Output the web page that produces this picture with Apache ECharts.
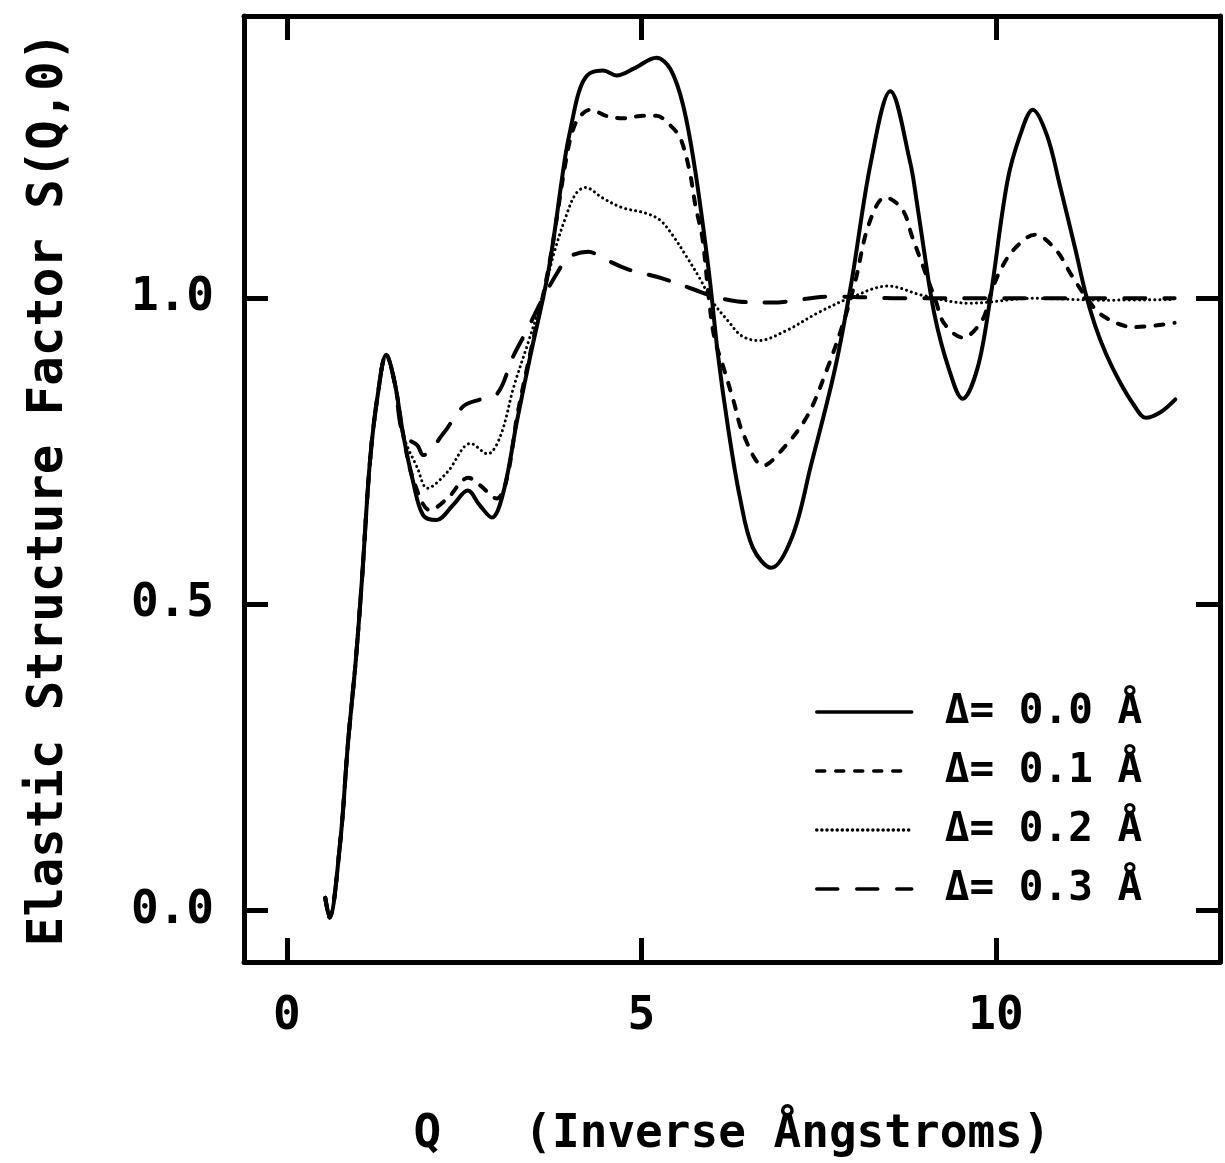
<!DOCTYPE html>
<html>
<head>
<meta charset="utf-8">
<script src="https://cdn.jsdelivr.net/npm/echarts@6/dist/echarts.min.js"></script>
<style>
html,body{margin:0;padding:0;background:#fff;}
#chart{width:1225px;height:1163px;}
</style>
</head>
<body>
<div id="chart"></div>
<script>
// ---- data (Q in inverse Angstroms, S = elastic structure factor) ----
var qRise = [0.54, 0.60, 0.75, 0.86, 0.97, 1.06, 1.17, 1.28, 1.40, 1.52, 1.64];
var sRise = [0.021, -0.011, 0.111, 0.273, 0.408, 0.545, 0.733, 0.842, 0.908, 0.862, 0.777];

var q00 = [1.78, 1.92, 2.11, 2.34, 2.55, 2.72, 2.89, 3.05, 3.25, 3.44, 3.69, 3.93, 4.02, 4.10, 4.18, 4.28, 4.46, 4.65, 4.89, 5.21, 5.41, 5.59, 5.76, 5.95, 6.08, 6.22, 6.39, 6.57, 6.83, 7.13, 7.39, 7.73, 7.96, 8.24, 8.51, 8.79, 8.88, 8.97, 9.13, 9.33, 9.53, 9.74, 9.92, 10.16, 10.34, 10.52, 10.72, 10.90, 11.12, 11.26, 11.40, 11.55, 11.74, 11.95, 12.11, 12.32, 12.53];
var s00 = [0.700, 0.646, 0.638, 0.662, 0.686, 0.662, 0.642, 0.682, 0.803, 0.910, 1.046, 1.235, 1.288, 1.330, 1.355, 1.368, 1.372, 1.364, 1.375, 1.393, 1.374, 1.314, 1.207, 1.044, 0.907, 0.790, 0.674, 0.593, 0.560, 0.612, 0.727, 0.885, 1.025, 1.225, 1.338, 1.222, 1.160, 1.090, 0.975, 0.887, 0.836, 0.886, 1.000, 1.190, 1.266, 1.308, 1.266, 1.185, 1.080, 1.010, 0.955, 0.910, 0.865, 0.825, 0.805, 0.814, 0.835];

var q01 = [1.78, 2.02, 2.26, 2.56, 2.73, 2.96, 3.10, 3.25, 3.44, 3.69, 3.93, 4.03, 4.14, 4.28, 4.50, 4.74, 5.03, 5.21, 5.41, 5.55, 5.68, 5.76, 5.86, 5.95, 6.03, 6.16, 6.30, 6.44, 6.72, 7.00, 7.34, 7.62, 7.85, 8.01, 8.21, 8.44, 8.68, 8.82, 8.96, 9.15, 9.27, 9.53, 9.80, 9.94, 10.08, 10.27, 10.55, 10.84, 11.07, 11.26, 11.50, 11.95, 12.52];
var s01 = [0.705, 0.654, 0.673, 0.707, 0.694, 0.673, 0.705, 0.810, 0.915, 1.050, 1.222, 1.274, 1.298, 1.308, 1.298, 1.294, 1.298, 1.298, 1.282, 1.261, 1.207, 1.152, 1.098, 1.000, 0.935, 0.886, 0.832, 0.777, 0.727, 0.755, 0.808, 0.885, 0.961, 1.025, 1.122, 1.165, 1.145, 1.100, 1.056, 0.996, 0.959, 0.936, 0.963, 1.012, 1.050, 1.082, 1.104, 1.080, 1.037, 1.004, 0.972, 0.953, 0.960];

var q02 = [1.84, 1.98, 2.26, 2.59, 2.83, 3.01, 3.20, 3.40, 3.60, 3.78, 3.93, 4.07, 4.21, 4.45, 4.73, 5.06, 5.26, 5.44, 5.62, 5.82, 6.00, 6.23, 6.41, 6.65, 7.02, 7.50, 7.93, 8.48, 8.96, 9.62, 10.52, 11.50, 12.52];
var s02 = [0.723, 0.690, 0.716, 0.763, 0.746, 0.775, 0.856, 0.927, 1.000, 1.079, 1.132, 1.170, 1.181, 1.164, 1.148, 1.139, 1.128, 1.103, 1.071, 1.033, 0.995, 0.962, 0.939, 0.931, 0.946, 0.977, 1.000, 1.020, 1.005, 0.992, 1.000, 0.997, 0.998];

var q03 = [1.84, 1.92, 2.21, 2.49, 2.73, 2.97, 3.19, 3.39, 3.60, 3.83, 3.97, 4.25, 4.48, 4.82, 5.28, 5.75, 5.99, 6.36, 6.83, 7.68, 8.68, 10.08, 11.30, 12.52];
var s03 = [0.760, 0.744, 0.780, 0.824, 0.835, 0.845, 0.905, 0.949, 0.998, 1.045, 1.067, 1.076, 1.064, 1.047, 1.033, 1.014, 1.004, 0.995, 0.993, 1.003, 1.000, 1.000, 1.000, 1.000];

var seriesNames = ['\u0394= 0.0 \u00C5', '\u0394= 0.1 \u00C5', '\u0394= 0.2 \u00C5', '\u0394= 0.3 \u00C5'];
var xTicks = [0, 5, 10];
var yTicks = [0, 0.5, 1.0];

// ---- build ----
function pairs(qa, sa) {
  var out = [];
  for (var i = 0; i < qRise.length; i++) out.push([qRise[i], sRise[i]]);
  for (var j = 0; j < qa.length; j++) out.push([qa[j], sa[j]]);
  return out;
}
var FONT = '"DejaVu Sans Mono", "Liberation Mono", monospace';
var dashTypes = ['solid', [8, 11], [0.1, 5], [21, 19]];
var widths = [4, 4, 3, 4];
var allQ = [q00, q01, q02, q03];
var allS = [s00, s01, s02, s03];

var series = [];
for (var k = 0; k < 4; k++) {
  series.push({
    name: seriesNames[k],
    type: 'line',
    data: pairs(allQ[k], allS[k]),
    showSymbol: false,
    symbol: 'none',
    smooth: 0.35,
    animation: false,
    lineStyle: { color: '#000', width: widths[k], type: dashTypes[k], cap: 'round', join: 'round' },
    itemStyle: { color: '#000' }
  });
}

var xMin = -0.606, xMax = 13.16;
var yMin = -0.0837, yMax = 1.461;
var axisLineStyle = { color: '#000', width: 5 };

var option = {
  backgroundColor: '#fff',
  animation: false,
  grid: { left: 244, right: 5, top: 16, bottom: 197, containLabel: false },
  legend: {
    orient: 'vertical',
    left: 810,
    top: 686,
    itemWidth: 95,
    itemHeight: 14,
    itemGap: 17,
    itemStyle: { opacity: 0 },
    lineStyle: { width: 3.5 },
    textStyle: { fontFamily: FONT, fontWeight: 'bold', fontSize: 41, color: '#000', padding: [0, 0, 0, 28], lineHeight: 42 },
    data: seriesNames
  },
  xAxis: [{
    type: 'value', min: xMin, max: xMax, position: 'bottom',
    axisLine: { show: true, onZero: false, lineStyle: axisLineStyle },
    axisTick: { show: true, inside: true, length: 24, customValues: xTicks, lineStyle: { color: '#000', width: 5 } },
    axisLabel: { show: true, customValues: xTicks, margin: 32, fontFamily: FONT, fontWeight: 'bold', fontSize: 46, color: '#000' },
    splitLine: { show: false },
    name: 'Q   (Inverse \u00C5ngstroms)',
    nameLocation: 'middle',
    nameGap: 150,
    nameTextStyle: { fontFamily: FONT, fontWeight: 'bold', fontSize: 46, color: '#000' }
  }, {
    type: 'value', min: xMin, max: xMax, position: 'top',
    axisLine: { show: true, onZero: false, lineStyle: axisLineStyle },
    axisTick: { show: true, inside: true, length: 24, customValues: xTicks, lineStyle: { color: '#000', width: 5 } },
    axisLabel: { show: false },
    splitLine: { show: false }
  }],
  yAxis: [{
    type: 'value', min: yMin, max: yMax, position: 'left',
    axisLine: { show: true, onZero: false, lineStyle: axisLineStyle },
    axisTick: { show: true, inside: true, length: 24, customValues: yTicks, lineStyle: { color: '#000', width: 5 } },
    axisLabel: { show: true, customValues: yTicks, margin: 30, fontFamily: FONT, fontWeight: 'bold', fontSize: 46, color: '#000',
      formatter: function (v) { return v.toFixed(1); } },
    splitLine: { show: false },
    name: 'Elastic Structure Factor S(Q,0)',
    nameLocation: 'middle',
    nameGap: 170,
    nameTextStyle: { fontFamily: FONT, fontWeight: 'bold', fontSize: 49, color: '#000' }
  }, {
    type: 'value', min: yMin, max: yMax, position: 'right',
    axisLine: { show: true, onZero: false, lineStyle: axisLineStyle },
    axisTick: { show: true, inside: true, length: 24, customValues: yTicks, lineStyle: { color: '#000', width: 5 } },
    axisLabel: { show: false },
    splitLine: { show: false }
  }],
  series: series
};

var chart = echarts.init(document.getElementById('chart'), null, { renderer: 'canvas' });
chart.setOption(option);
</script>
</body>
</html>
